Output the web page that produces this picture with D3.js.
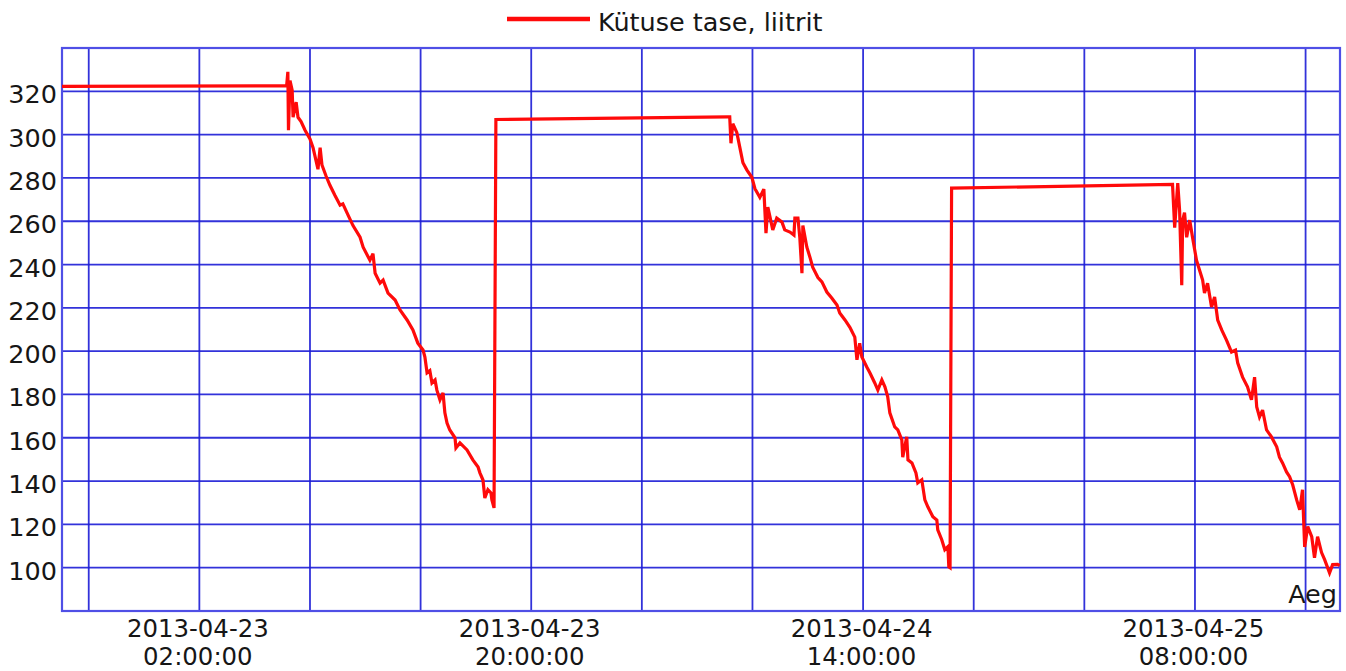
<!DOCTYPE html>
<html>
<head>
<meta charset="utf-8">
<script src="https://cdn.jsdelivr.net/npm/d3@7"></script>
<style>
  html, body { margin: 0; padding: 0; background: #ffffff; }
  svg { display: block; }
  text { font-family: "DejaVu Sans", Verdana, sans-serif; fill: #161616; }
</style>
</head>
<body>
<svg id="chart" width="1346" height="671"></svg>
<script>
// ---------------- DATA ----------------
const seriesName = "Kütuse tase, liitrit";
const xAxisTitle = "Aeg";

const times = [
  "2013-04-22 18:33", "2013-04-23 06:44", "2013-04-23 06:48", "2013-04-23 06:50", "2013-04-23 06:55",
  "2013-04-23 07:02", "2013-04-23 07:05", "2013-04-23 07:15", "2013-04-23 07:21", "2013-04-23 07:31",
  "2013-04-23 07:44", "2013-04-23 08:00", "2013-04-23 08:10", "2013-04-23 08:26", "2013-04-23 08:33",
  "2013-04-23 08:39", "2013-04-23 08:52", "2013-04-23 09:05", "2013-04-23 09:21", "2013-04-23 09:38",
  "2013-04-23 09:47", "2013-04-23 10:04", "2013-04-23 10:20", "2013-04-23 10:43", "2013-04-23 10:53",
  "2013-04-23 11:15", "2013-04-23 11:25", "2013-04-23 11:32", "2013-04-23 11:48", "2013-04-23 11:58",
  "2013-04-23 12:14", "2013-04-23 12:37", "2013-04-23 12:53", "2013-04-23 13:16", "2013-04-23 13:35",
  "2013-04-23 13:51", "2013-04-23 14:08", "2013-04-23 14:14", "2013-04-23 14:21", "2013-04-23 14:30",
  "2013-04-23 14:37", "2013-04-23 14:47", "2013-04-23 14:53", "2013-04-23 15:03", "2013-04-23 15:13",
  "2013-04-23 15:19", "2013-04-23 15:26", "2013-04-23 15:35", "2013-04-23 15:52", "2013-04-23 15:55",
  "2013-04-23 16:08", "2013-04-23 16:31", "2013-04-23 16:50", "2013-04-23 17:07", "2013-04-23 17:13",
  "2013-04-23 17:23", "2013-04-23 17:29", "2013-04-23 17:39", "2013-04-23 17:49", "2013-04-23 17:52",
  "2013-04-23 17:59", "2013-04-23 18:05", "2013-04-24 06:40",
  "2013-04-24 06:46", "2013-04-24 06:50", "2013-04-24 06:56", "2013-04-24 07:09", "2013-04-24 07:19",
  "2013-04-24 07:29", "2013-04-24 07:42", "2013-04-24 07:58", "2013-04-24 08:08", "2013-04-24 08:24",
  "2013-04-24 08:37", "2013-04-24 08:44", "2013-04-24 08:50", "2013-04-24 08:57", "2013-04-24 09:06",
  "2013-04-24 09:19", "2013-04-24 09:36", "2013-04-24 09:45", "2013-04-24 10:02", "2013-04-24 10:15",
  "2013-04-24 10:18", "2013-04-24 10:28", "2013-04-24 10:34", "2013-04-24 10:41", "2013-04-24 10:44",
  "2013-04-24 10:57", "2013-04-24 11:07", "2013-04-24 11:16", "2013-04-24 11:33", "2013-04-24 11:46",
  "2013-04-24 12:02", "2013-04-24 12:18", "2013-04-24 12:35", "2013-04-24 12:44", "2013-04-24 13:01",
  "2013-04-24 13:17", "2013-04-24 13:33", "2013-04-24 13:40", "2013-04-24 13:49", "2013-04-24 13:56",
  "2013-04-24 14:12", "2013-04-24 14:22", "2013-04-24 14:38", "2013-04-24 14:48", "2013-04-24 15:01",
  "2013-04-24 15:11", "2013-04-24 15:20", "2013-04-24 15:27", "2013-04-24 15:43", "2013-04-24 15:53",
  "2013-04-24 16:06", "2013-04-24 16:09", "2013-04-24 16:22", "2013-04-24 16:26", "2013-04-24 16:39",
  "2013-04-24 16:52", "2013-04-24 16:58", "2013-04-24 17:11", "2013-04-24 17:21", "2013-04-24 17:31",
  "2013-04-24 17:47", "2013-04-24 18:00", "2013-04-24 18:03", "2013-04-24 18:16", "2013-04-24 18:26",
  "2013-04-24 18:36", "2013-04-24 18:39", "2013-04-24 18:43", "2013-04-24 18:48", "2013-04-25 06:47",
  "2013-04-25 06:54", "2013-04-25 07:04", "2013-04-25 07:10", "2013-04-25 07:17", "2013-04-25 07:20",
  "2013-04-25 07:26", "2013-04-25 07:33", "2013-04-25 07:43", "2013-04-25 07:52", "2013-04-25 08:05",
  "2013-04-25 08:15", "2013-04-25 08:25", "2013-04-25 08:31", "2013-04-25 08:41", "2013-04-25 08:54",
  "2013-04-25 09:04", "2013-04-25 09:14", "2013-04-25 09:27", "2013-04-25 09:43", "2013-04-25 09:59",
  "2013-04-25 10:12", "2013-04-25 10:19", "2013-04-25 10:35", "2013-04-25 10:51", "2013-04-25 11:04",
  "2013-04-25 11:14", "2013-04-25 11:21", "2013-04-25 11:30", "2013-04-25 11:40", "2013-04-25 11:53",
  "2013-04-25 12:09", "2013-04-25 12:26", "2013-04-25 12:35", "2013-04-25 12:45", "2013-04-25 12:58",
  "2013-04-25 13:08", "2013-04-25 13:18", "2013-04-25 13:31", "2013-04-25 13:41", "2013-04-25 13:50",
  "2013-04-25 13:57", "2013-04-25 14:07", "2013-04-25 14:20", "2013-04-25 14:29", "2013-04-25 14:39",
  "2013-04-25 14:52", "2013-04-25 15:02", "2013-04-25 15:18", "2013-04-25 15:28", "2013-04-25 15:44",
  "2013-04-25 15:51"
];

const litres = [
  322.3, 322.5, 329, 302, 325,
  320.5, 308, 315, 308, 306,
  302, 298, 294, 284, 294,
  286, 281, 276.6, 272, 267.4,
  268, 262.8, 258, 252.6, 248,
  242, 245, 236, 231.4, 232.8,
  226.8, 223.6, 219, 214.4, 209.8,
  203.7, 200.5, 197.3, 190, 191,
  185.3, 186.7, 182, 177.5, 180.7,
  171.5, 166.8, 163.6, 160, 155.3,
  157.6, 154.4, 149.8, 146.5, 143.8,
  140.5, 132.2, 136, 134.5, 131.3,
  127.6, 307, 308.2,
  308.2, 296, 305, 301, 294,
  287, 283.6, 280.3, 275, 271,
  274.8, 254.5, 266.5, 262, 256,
  261.4, 259.6, 256, 255, 253.6,
  261.4, 261.4, 252.6, 236, 258,
  248, 243.4, 238.8, 234, 232,
  227.3, 224.5, 221.3, 217.6, 214.4,
  211, 206.5, 196, 203.7, 197.3,
  192.7, 190, 185.3, 182, 186.7,
  183.5, 179, 171.5, 165, 163.6,
  159, 151, 160.4, 149.8, 148.4,
  143.8, 139.2, 140.6, 131.3, 128,
  123.5, 122, 117.5, 112.9, 108.3,
  109.7, 100.4, 100, 275.3, 277,
  257, 277.6, 265, 230.5, 260.5,
  264, 252.6, 260.5, 252.6, 242,
  237.4, 232.8, 226.8, 231.4, 220.4,
  225, 214.4, 209.8, 205, 199.6,
  200.5, 194.6, 188, 183.5, 177.5,
  188, 174.2, 169.6, 172.8, 163.6,
  160.4, 155.8, 151, 148.4, 144.2,
  142, 138.3, 131.3, 126.7, 136,
  109.6, 119, 114.3, 104.6, 114.3,
  107, 103.7, 97.6, 101.4, 101.5,
  101
];

const yTicks = [100, 120, 140, 160, 180, 200, 220, 240, 260, 280, 300, 320];
const yDomain = [80, 340];
const xDomain = ["2013-04-22 18:33", "2013-04-25 15:52"];
const xTickLabels = ["2013-04-23 02:00", "2013-04-23 20:00", "2013-04-24 14:00", "2013-04-25 08:00"];
const gridStart = "2013-04-22 20:00";
const gridStepHours = 6;
const gridCount = 12;

// ---------------- CHART ----------------
const parse = d3.timeParse("%Y-%m-%d %H:%M");
const data = times.map((t, i) => ({ t: parse(t), v: litres[i] }));

const svg = d3.select("#chart");
const m = { left: 62, right: 1340, top: 48, bottom: 611 };
const FS = 25.5;
const FSX = 24.4;

const x = d3.scaleTime().domain(xDomain.map(parse)).range([m.left, m.right]);
const y = d3.scaleLinear().domain(yDomain).range([m.bottom, m.top]);

const gridColor = "#1c1cd6";

// vertical grid lines
const gridTimes = d3.range(gridCount).map(i => d3.timeHour.offset(parse(gridStart), i * gridStepHours));
svg.append("g").selectAll("line").data(gridTimes).join("line")
  .attr("x1", d => x(d)).attr("x2", d => x(d))
  .attr("y1", m.top).attr("y2", m.bottom)
  .attr("stroke", gridColor).attr("stroke-width", 1.8).attr("stroke-opacity", 0.9);

// horizontal grid lines
svg.append("g").selectAll("line").data(yTicks).join("line")
  .attr("x1", m.left).attr("x2", m.right)
  .attr("y1", d => y(d)).attr("y2", d => y(d))
  .attr("stroke", gridColor).attr("stroke-width", 1.8).attr("stroke-opacity", 0.9);

// frame
svg.append("rect")
  .attr("x", m.left).attr("y", m.top)
  .attr("width", m.right - m.left).attr("height", m.bottom - m.top)
  .attr("fill", "none").attr("stroke", "#4f4fe6").attr("stroke-width", 2.2);

// y axis
const yAxis = d3.axisLeft(y).tickValues(yTicks).tickSize(0).tickPadding(5).tickFormat(d3.format("d"));
const gy = svg.append("g").attr("transform", `translate(${m.left},0)`).call(yAxis);
gy.select(".domain").remove();
gy.selectAll("text")
  .attr("font-family", "DejaVu Sans, sans-serif").attr("font-size", FS)
  .attr("fill", "#161616").attr("dy", "0.45em");

// x axis labels (two lines)
const xAxis = d3.axisBottom(x).tickValues(xTickLabels.map(parse)).tickSize(0).tickFormat("");
const gx = svg.append("g").attr("transform", `translate(0,${m.bottom})`).call(xAxis);
gx.select(".domain").remove();
const fmtDate = d3.timeFormat("%Y-%m-%d");
const fmtTime = d3.timeFormat("%H:%M:%S");
gx.selectAll(".tick").each(function(d) {
  const g = d3.select(this);
  g.select("text").remove();
  g.append("text").attr("text-anchor", "middle").attr("x", -2).attr("y", 25.5)
    .attr("font-size", FSX).attr("fill", "#161616").text(fmtDate(d));
  g.append("text").attr("text-anchor", "middle").attr("x", -2).attr("y", 54)
    .attr("font-size", FSX).attr("fill", "#161616").text(fmtTime(d));
});

// axis title
svg.append("text").attr("x", 1337).attr("y", 603).attr("text-anchor", "end")
  .attr("font-size", FS).text(xAxisTitle);

// series line
const line = d3.line().x(d => x(d.t)).y(d => y(d.v));
svg.append("path").datum(data)
  .attr("d", line)
  .attr("fill", "none").attr("stroke", "#ff0a0a").attr("stroke-width", 3.2)
  .attr("stroke-linejoin", "miter").attr("stroke-miterlimit", 3);

// legend
svg.append("line").attr("x1", 507).attr("x2", 590).attr("y1", 19).attr("y2", 19)
  .attr("stroke", "#ff0a0a").attr("stroke-width", 4.5);
svg.append("text").attr("x", 598).attr("y", 31).attr("font-size", FS).text(seriesName);
</script>
</body>
</html>
